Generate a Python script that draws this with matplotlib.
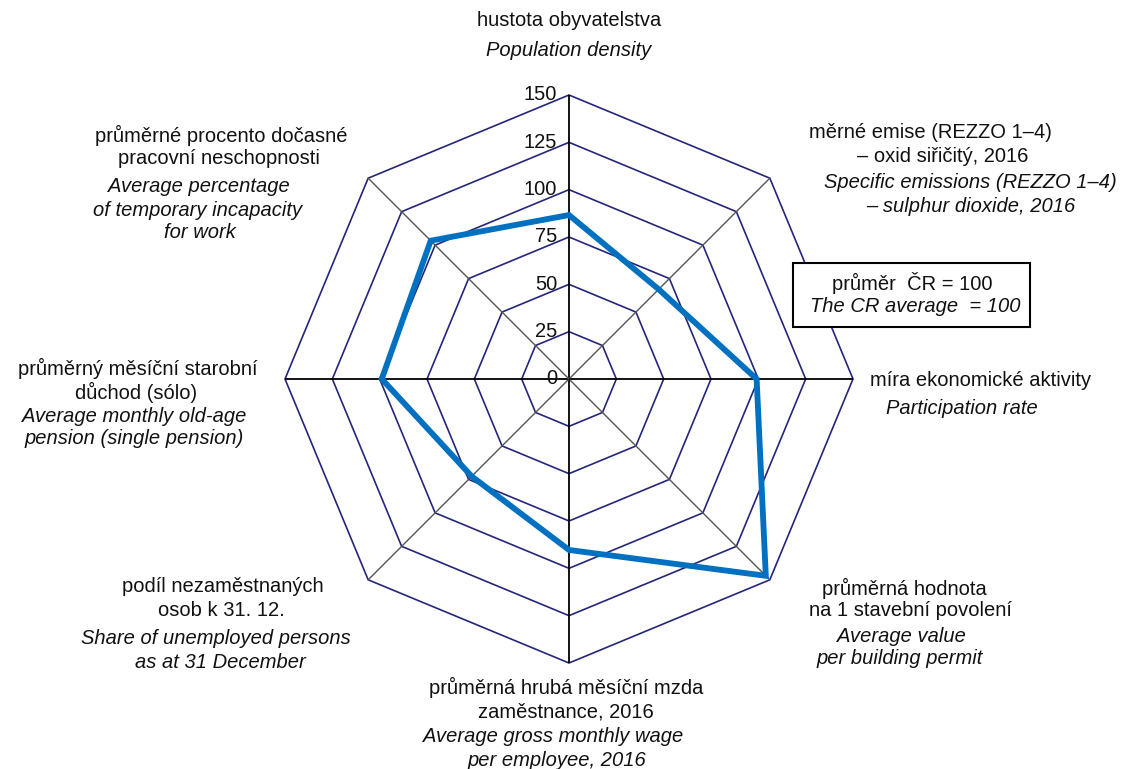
import numpy as np
import matplotlib
matplotlib.use("Agg")
import matplotlib.pyplot as plt
from matplotlib.patches import Rectangle, Polygon

plt.rcParams['font.family'] = ['Liberation Sans', 'DejaVu Sans']

# ---- data ----
categories_cz = [
    "hustota obyvatelstva",
    "měrné emise (REZZO 1–4)\n– oxid siřičitý, 2016",
    "míra ekonomické aktivity",
    "průměrná hodnota\nna 1 stavební povolení",
    "průměrná hrubá měsíční mzda\nzaměstnance, 2016",
    "podíl nezaměstnaných\nosob k 31. 12.",
    "průměrný měsíční starobní\ndůchod (sólo)",
    "průměrné procento dočasné\npracovní neschopnosti",
]
categories_en = [
    "Population density",
    "Specific emissions (REZZO 1–4)\n– sulphur dioxide, 2016",
    "Participation rate",
    "Average value\nper building permit",
    "Average gross monthly wage\nper employee, 2016",
    "Share of unemployed persons\nas at 31 December",
    "Average monthly old-age\npension (single pension)",
    "Average percentage\nof temporary incapacity\nfor work",
]
values = [86.6, 67, 99.1, 147, 90.3, 72.7, 98.9, 103.3]
ticks = [0, 25, 50, 75, 100, 125, 150]
note_cz = "průměr  ČR = 100"
note_en = "The CR average  = 100"

# ---- layout ----
W, H = 1130, 769
fig = plt.figure(figsize=(W / 100, H / 100), dpi=100)
ax = fig.add_axes([0, 0, 1, 1])
cx, cy = 569, 379           # centre in pixels
scale = 284 / 150           # pixels per unit
ax.set_xlim(-cx / scale, (W - cx) / scale)
ax.set_ylim(-(H - cy) / scale, cy / scale)
ax.axis('off')

n = len(values)
theta = np.arange(n) * 2 * np.pi / n
sx, sy = np.sin(theta), np.cos(theta)

grid_col = "#25257A"
for r in ticks[1:]:
    ax.add_patch(Polygon(np.column_stack([r * sx, r * sy]), closed=True,
                         fill=False, edgecolor=grid_col, lw=1.2, zorder=1))

rmax = ticks[-1]
for i in range(n):
    diag = i % 2 == 1
    ax.plot([0, rmax * sx[i]], [0, rmax * sy[i]],
            color="#555555" if diag else "black",
            lw=1.0 if diag else 1.3, zorder=2, solid_capstyle='butt')

v = np.array(values)
ax.add_patch(Polygon(np.column_stack([v * sx, v * sy]), closed=True,
                     fill=False, edgecolor="#0070C0", lw=4.2, zorder=3,
                     joinstyle='miter'))

FS = 14.5
for t in ticks:
    ax.text(-12 / scale, t, str(t), ha='right', va='center', fontsize=FS,
            color="#111111")

def ftext(px, py, s, italic=False, **kw):
    fig.text(px / W, 1 - py / H, s, ha='center', va='center', fontsize=FS,
             style='italic' if italic else 'normal', color="#111111",
             linespacing=1.2, **kw)

# label positions (pixel centres) for each category
cz_pos = [
    [(569, 21)],
    [(930, 132), (943, 157)],
    [(981, 380)],
    [(904, 588), (910, 611)],
    [(566, 687), (566, 712)],
    [(223, 587), (221, 611)],
    [(138, 368), (136, 392)],
    [(221, 135), (219, 159)],
]
en_pos = [
    [(569, 51)],
    [(970, 182), (971, 207)],
    [(962, 408)],
    [(901, 636), (900, 659)],
    [(553, 737), (557, 760)],
    [(216, 638), (220, 662)],
    [(134, 416), (134, 439)],
    [(199, 187), (198, 210), (200, 233)],
]
for i in range(n):
    for (px, py), line in zip(cz_pos[i], categories_cz[i].split("\n")):
        ftext(px, py, line)
    for (px, py), line in zip(en_pos[i], categories_en[i].split("\n")):
        ftext(px, py, line, italic=True)

# note box
fig.patches.append(Rectangle((793 / W, 1 - 327 / H), (1030 - 793) / W,
                             (327 - 263) / H, transform=fig.transFigure,
                             facecolor='white', edgecolor='black', lw=1.5,
                             zorder=5))
fig.text(912 / W, 1 - 283 / H, note_cz, ha='center', va='center',
         fontsize=FS, color="#111111", zorder=6)
fig.text(915 / W, 1 - 306 / H, note_en, ha='center', va='center',
         fontsize=FS, style='italic', color="#111111", zorder=6)

fig.savefig("out.png", dpi=100, facecolor='white')
